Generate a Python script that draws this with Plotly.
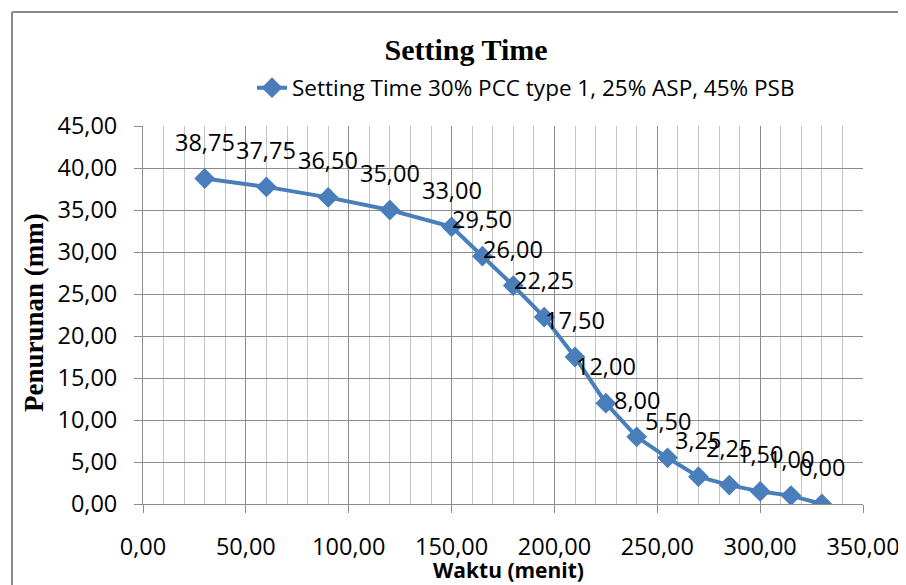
import plotly.graph_objects as go

waktu = [30, 60, 90, 120, 150, 165, 180, 195, 210, 225, 240, 255, 270, 285, 300, 315, 330]
penurunan = [38.75, 37.75, 36.50, 35.00, 33.00, 29.50, 26.00, 22.25, 17.50, 12.00, 8.00, 5.50, 3.25, 2.25, 1.50, 1.00, 0.00]
x_ticks = [0, 50, 100, 150, 200, 250, 300, 350]
y_ticks = [0, 5, 10, 15, 20, 25, 30, 35, 40, 45]
series_name = "Setting Time 30% PCC type 1, 25% ASP, 45% PSB"


def fmt(v):
    return f"{v:.2f}".replace(".", ",")


BLUE = "#4A7EBB"
TXT = "Open Sans"
FS = 23.5

fig = go.Figure()
fig.add_trace(go.Scatter(
    x=waktu, y=penurunan, mode="lines+markers", name=series_name,
    line=dict(color=BLUE, width=4),
    marker=dict(symbol="diamond", size=16, color=BLUE),
))

for xv, yv in zip(waktu, penurunan):
    fig.add_annotation(x=xv, y=yv, text=fmt(yv), showarrow=False,
                       yshift=37, font=dict(family=TXT, size=FS, color="black"))

# page has an 8px body margin; figure coordinates = screen pixel - 8
OFF = 8
W, H = 906 - OFF, 585 - OFF
L, T = 143 - OFF, 126 - OFF
R = W - (863 - OFF)
B = H - (504 - OFF)
pw, ph = W - L - R, H - T - B


def px_x(p):
    return (p - OFF - L) / pw


def px_y(p):
    return (H - B - (p - OFF)) / ph


fig.add_shape(type="line", xref="paper", yref="paper",
              x0=px_x(12), x1=px_x(910), y0=px_y(12), y1=px_y(12),
              line=dict(color="#8a8a8a", width=2))
fig.add_shape(type="line", xref="paper", yref="paper",
              x0=px_x(12), x1=px_x(12), y0=px_y(12), y1=px_y(590),
              line=dict(color="#8a8a8a", width=2))

fig.add_annotation(xref="paper", yref="paper", x=px_x(34), y=px_y(313),
                   text="<b>Penurunan (mm)</b>", textangle=-90, showarrow=False,
                   xanchor="center", yanchor="middle",
                   font=dict(family="Liberation Serif", size=27, color="black"))
fig.add_annotation(xref="paper", yref="paper", x=px_x(508), y=px_y(570),
                   text="<b>Waktu (menit)</b>", showarrow=False,
                   xanchor="center", yanchor="middle",
                   font=dict(family=TXT, size=21, color="black"))

fig.update_layout(
    width=W, height=H,
    margin=dict(l=L, r=R, t=T, b=B, autoexpand=False),
    paper_bgcolor="white", plot_bgcolor="white",
    title=dict(text="<b>Setting Time</b>", x=(466 - OFF) / W, xanchor="center",
               y=1 - (49 - OFF) / H, yanchor="middle",
               font=dict(family="Liberation Serif", size=30, color="black")),
    showlegend=True,
    legend=dict(orientation="h", x=px_x(526), xanchor="center", y=px_y(88), yanchor="middle",
                font=dict(family=TXT, size=22.5, color="black"), bgcolor="rgba(0,0,0,0)"),
    xaxis=dict(range=[0, 350], tickvals=x_ticks, ticktext=[fmt(v) for v in x_ticks],
               showgrid=True, gridcolor="#8c8c8c", gridwidth=1,
               minor=dict(dtick=10, showgrid=True, gridcolor="#c4c4c4", gridwidth=1),
               ticks="outside", ticklen=8, tickcolor="#8c8c8c",
               showline=True, linecolor="#8c8c8c", zeroline=False,
               ticklabelstandoff=14, automargin=False,
               tickfont=dict(family=TXT, size=FS, color="black")),
    yaxis=dict(range=[0, 45], tickvals=y_ticks, ticktext=[fmt(v) for v in y_ticks],
               showgrid=True, gridcolor="#8c8c8c", gridwidth=1,
               ticks="outside", ticklen=8, tickcolor="#8c8c8c",
               showline=True, linecolor="#8c8c8c", zeroline=False,
               ticklabelstandoff=12, automargin=False,
               tickfont=dict(family=TXT, size=FS, color="black")),
)

fig.write_html("out.html")
